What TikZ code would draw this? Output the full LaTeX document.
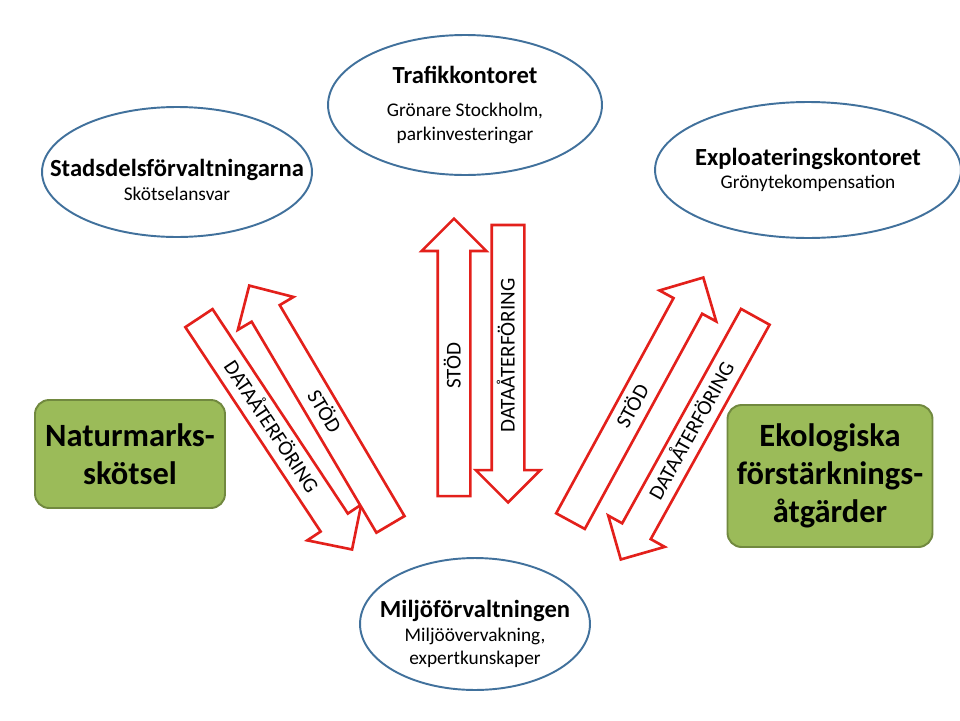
\documentclass[tikz,border=0pt]{standalone}
\usepackage{fontspec}
\setmainfont{Carlito}
\usetikzlibrary{shapes.geometric, shapes.arrows}
\definecolor{ellipseblue}{HTML}{41719C}
\definecolor{arrowred}{HTML}{E3201B}
\definecolor{boxgreen}{HTML}{9BBB59}
\definecolor{boxborder}{HTML}{71893F}

\begin{document}
\begin{tikzpicture}[
    x=0.02cm, y=-0.02cm,
    office/.style={draw=ellipseblue, ellipse, line width=1.1pt, fill=white, inner sep=0pt},
    officetext/.style={align=center, font=\fontsize{11}{13.5}\selectfont},
    measure/.style={draw=boxborder, rectangle, rounded corners=8pt, line width=1.1pt, fill=boxgreen, align=center, font=\bfseries\fontsize{18.5}{21.5}\selectfont},
    flow/.style={single arrow, draw=arrowred, line width=1.5pt, fill=white, minimum height=5.55cm, minimum width=1.24cm, single arrow head extend=0.32cm, single arrow head indent=0pt, inner xsep=0pt, inner ysep=0pt, text height=0.43cm, text depth=0.17cm, font=\fontsize{12}{14}\selectfont},
    back/.style={shape border rotate=180}
]
\useasboundingbox (0,0) rectangle (960,720);

% Offices
\node[office, minimum width=5.48cm, minimum height=2.8cm,
      label={[officetext]center:{{\bfseries\fontsize{14}{16}\selectfont Trafikkontoret}\\[5pt] Grönare Stockholm,\\ parkinvesteringar}}] (trafik) at (465,105) {};
\node[office, minimum width=5.4cm, minimum height=2.6cm,
      label={[officetext, yshift=-0.16cm]center:{{\bfseries\fontsize{14}{16}\selectfont Stadsdelsförvaltningarna}\\ Skötselansvar}}] (stadsdel) at (177,172) {};
\node[office, minimum width=6.12cm, minimum height=2.72cm,
      label={[officetext]center:{{\bfseries\fontsize{14}{16}\selectfont Exploateringskontoret}\\ Grönytekompensation}}] (exploat) at (808,170) {};
\node[office, minimum width=4.6cm, minimum height=2.64cm,
      label={[officetext, yshift=-0.2cm]center:{{\bfseries\fontsize{14}{16}\selectfont Miljöförvaltningen}\\ Miljöövervakning,\\ expertkunskaper}}] (miljo) at (475,624) {};

% Measures
\node[measure, minimum width=3.8cm, minimum height=2.16cm] (natur) at (130,454) {Naturmarks-\\skötsel};
\node[measure, minimum width=4.1cm, minimum height=2.84cm] (eko) at (830,476) {Ekologiska\\förstärknings-\\åtgärder};

% Block arrows
\node[flow, rotate=-56.5] (ldata) at (271,427) {DATAÅTERFÖRING};
\node[flow, back, rotate=-59.4] (lstod) at (324,412) {STÖD};
\node[flow, rotate=90] (cstod) at (454,365.5) {STÖD};
\node[flow, back, rotate=90] (cdata) at (508,355.5) {DATAÅTERFÖRING};
\node[flow, rotate=61.4] (rstod) at (633,406.5) {STÖD};
\node[flow, back, rotate=61] (rdata) at (692,431) {DATAÅTERFÖRING};

\end{tikzpicture}
\end{document}
